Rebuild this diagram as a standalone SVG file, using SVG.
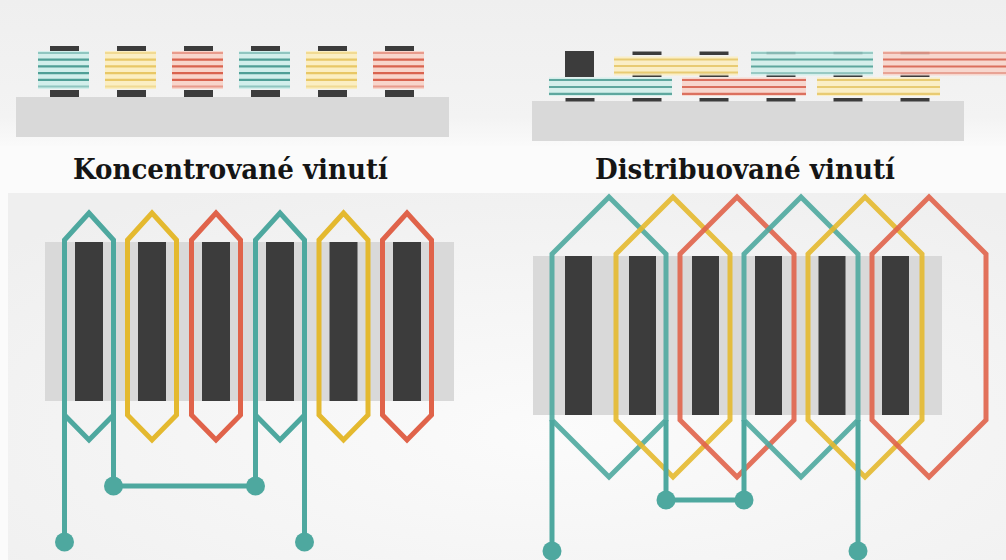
<svg xmlns="http://www.w3.org/2000/svg" width="1006" height="560" viewBox="0 0 1006 560">
  <defs>
    <linearGradient id="bgTop" x1="0" y1="0" x2="0" y2="1">
      <stop offset="0" stop-color="#efefef"/>
      <stop offset="0.8" stop-color="#f3f3f3"/>
      <stop offset="1" stop-color="#fafafa"/>
    </linearGradient>
    <radialGradient id="bgLow" cx="0.55" cy="0.65" r="0.75">
      <stop offset="0" stop-color="#fbfbfb"/>
      <stop offset="1" stop-color="#efefef"/>
    </radialGradient>
    <style>
      .title{font-family:"DejaVu Serif Condensed","DejaVu Serif",serif;font-stretch:condensed;font-weight:bold;font-size:27px;fill:#151515}
      .core{fill:#d9d9d9}
      .bar{fill:#3c3c3c}
      .coil{fill:none;stroke-width:5;stroke-linejoin:miter}
      .wire{fill:none;stroke:#4ea89f;stroke-width:5}
      .dot{fill:#4ea89f}
      .t{stroke:#4ea89f}
      .y{stroke:#e4b92f}
      .r{stroke:#e0634a}
      .dist{opacity:0.9}
      .pt{fill:#d2efeb}
      .py{fill:#fbeec2}
      .pr{fill:#f8d5cb}
      .s{stroke-width:2.2}
      .st{stroke:#4f9f96}
      .sy{stroke:#e8c766}
      .sr{stroke:#d9634f}
      .faint{opacity:0.5}
    </style>
  </defs>

  <!-- backdrop -->
  <rect x="0" y="0" width="1006" height="560" fill="#fbfbfb"/>
  <rect x="0" y="0" width="1006" height="146" fill="url(#bgTop)"/>
  <rect x="8" y="193" width="998" height="367" fill="url(#bgLow)"/>

  <!-- ===== concentrated winding, cross-section ===== -->
  <g id="concentrated-section">
    <rect class="core" x="16" y="97" width="433" height="40"/>
    <g id="cs-coil-1">
      <rect class="bar" x="50" y="46" width="29" height="7"/>
      <rect class="bar" x="50" y="90" width="29" height="7"/>
      <rect class="pt" x="38" y="51" width="51" height="38"/>
      <g class="s st"><line class="faint" x1="38" y1="53" x2="89" y2="53"/><line x1="38" y1="59.7" x2="89" y2="59.7"/><line x1="38" y1="66.4" x2="89" y2="66.4"/><line x1="38" y1="73.1" x2="89" y2="73.1"/><line x1="38" y1="79.8" x2="89" y2="79.8"/><line class="faint" x1="38" y1="86.5" x2="89" y2="86.5"/></g>
    </g>
    <g id="cs-coil-2">
      <rect class="bar" x="117" y="46" width="29" height="7"/>
      <rect class="bar" x="117" y="90" width="29" height="7"/>
      <rect class="py" x="105" y="51" width="51" height="38"/>
      <g class="s sy"><line class="faint" x1="105" y1="53" x2="156" y2="53"/><line x1="105" y1="59.7" x2="156" y2="59.7"/><line x1="105" y1="66.4" x2="156" y2="66.4"/><line x1="105" y1="73.1" x2="156" y2="73.1"/><line x1="105" y1="79.8" x2="156" y2="79.8"/><line class="faint" x1="105" y1="86.5" x2="156" y2="86.5"/></g>
    </g>
    <g id="cs-coil-3">
      <rect class="bar" x="184" y="46" width="29" height="7"/>
      <rect class="bar" x="184" y="90" width="29" height="7"/>
      <rect class="pr" x="172" y="51" width="51" height="38"/>
      <g class="s sr"><line class="faint" x1="172" y1="53" x2="223" y2="53"/><line x1="172" y1="59.7" x2="223" y2="59.7"/><line x1="172" y1="66.4" x2="223" y2="66.4"/><line x1="172" y1="73.1" x2="223" y2="73.1"/><line x1="172" y1="79.8" x2="223" y2="79.8"/><line class="faint" x1="172" y1="86.5" x2="223" y2="86.5"/></g>
    </g>
    <g id="cs-coil-4">
      <rect class="bar" x="251" y="46" width="29" height="7"/>
      <rect class="bar" x="251" y="90" width="29" height="7"/>
      <rect class="pt" x="239" y="51" width="51" height="38"/>
      <g class="s st"><line class="faint" x1="239" y1="53" x2="290" y2="53"/><line x1="239" y1="59.7" x2="290" y2="59.7"/><line x1="239" y1="66.4" x2="290" y2="66.4"/><line x1="239" y1="73.1" x2="290" y2="73.1"/><line x1="239" y1="79.8" x2="290" y2="79.8"/><line class="faint" x1="239" y1="86.5" x2="290" y2="86.5"/></g>
    </g>
    <g id="cs-coil-5">
      <rect class="bar" x="318" y="46" width="29" height="7"/>
      <rect class="bar" x="318" y="90" width="29" height="7"/>
      <rect class="py" x="306" y="51" width="51" height="38"/>
      <g class="s sy"><line class="faint" x1="306" y1="53" x2="357" y2="53"/><line x1="306" y1="59.7" x2="357" y2="59.7"/><line x1="306" y1="66.4" x2="357" y2="66.4"/><line x1="306" y1="73.1" x2="357" y2="73.1"/><line x1="306" y1="79.8" x2="357" y2="79.8"/><line class="faint" x1="306" y1="86.5" x2="357" y2="86.5"/></g>
    </g>
    <g id="cs-coil-6">
      <rect class="bar" x="385" y="46" width="29" height="7"/>
      <rect class="bar" x="385" y="90" width="29" height="7"/>
      <rect class="pr" x="373" y="51" width="51" height="38"/>
      <g class="s sr"><line class="faint" x1="373" y1="53" x2="424" y2="53"/><line x1="373" y1="59.7" x2="424" y2="59.7"/><line x1="373" y1="66.4" x2="424" y2="66.4"/><line x1="373" y1="73.1" x2="424" y2="73.1"/><line x1="373" y1="79.8" x2="424" y2="79.8"/><line class="faint" x1="373" y1="86.5" x2="424" y2="86.5"/></g>
    </g>
  </g>

  <!-- ===== distributed winding, cross-section ===== -->
  <g id="distributed-section">
    <rect class="core" x="532" y="101" width="432" height="40"/>
    <!-- slot teeth -->
    <rect class="bar" x="565" y="51" width="29" height="26"/>
    <g class="bar">
      <rect x="632.5" y="51.5" width="29" height="3.5"/>
      <rect x="699.5" y="51.5" width="29" height="3.5"/>
      <rect x="766.5" y="51.5" width="29" height="3.5"/>
      <rect x="833.5" y="51.5" width="29" height="3.5"/>
      <rect x="900.5" y="51.5" width="29" height="3.5"/>
      <rect x="632.5" y="73.5" width="29" height="3.5"/>
      <rect x="699.5" y="73.5" width="29" height="3.5"/>
      <rect x="766.5" y="73.5" width="29" height="3.5"/>
      <rect x="833.5" y="73.5" width="29" height="3.5"/>
      <rect x="900.5" y="73.5" width="29" height="3.5"/>
      <rect x="565.5" y="98" width="29" height="3.5"/>
      <rect x="632.5" y="98" width="29" height="3.5"/>
      <rect x="699.5" y="98" width="29" height="3.5"/>
      <rect x="766.5" y="98" width="29" height="3.5"/>
      <rect x="833.5" y="98" width="29" height="3.5"/>
      <rect x="900.5" y="98" width="29" height="3.5"/>
    </g>
    <g id="ds-coil-yellow-upper" opacity="0.9">
      <rect class="py" x="614" y="56.5" width="124" height="19"/>
      <g class="s sy"><line x1="614" y1="59.5" x2="738" y2="59.5"/><line x1="614" y1="66" x2="738" y2="66"/><line x1="614" y1="72.5" x2="738" y2="72.5"/></g>
    </g>
    <g id="ds-coil-teal-upper" opacity="0.9">
      <rect class="pt" x="751" y="51" width="122" height="24.5"/>
      <g class="s st"><line class="faint" x1="751" y1="53" x2="873" y2="53"/><line x1="751" y1="59.5" x2="873" y2="59.5"/><line x1="751" y1="66.5" x2="873" y2="66.5"/><line class="faint" x1="751" y1="73" x2="873" y2="73"/></g>
    </g>
    <g id="ds-coil-red-upper" opacity="0.9">
      <rect class="pr" x="883" y="51" width="123" height="24.5"/>
      <g class="s sr"><line class="faint" x1="883" y1="53" x2="1006" y2="53"/><line x1="883" y1="59.5" x2="1006" y2="59.5"/><line x1="883" y1="66.5" x2="1006" y2="66.5"/><line class="faint" x1="883" y1="73" x2="1006" y2="73"/></g>
    </g>
    <g id="ds-coil-teal-lower" opacity="0.9">
      <rect class="pt" x="549" y="77.5" width="123" height="18.5"/>
      <g class="s st"><line x1="549" y1="80" x2="672" y2="80"/><line x1="549" y1="87" x2="672" y2="87"/><line x1="549" y1="93.8" x2="672" y2="93.8"/></g>
    </g>
    <g id="ds-coil-red-lower" opacity="0.9">
      <rect class="pr" x="682" y="77.5" width="124" height="18.5"/>
      <g class="s sr"><line x1="682" y1="80" x2="806" y2="80"/><line x1="682" y1="87" x2="806" y2="87"/><line x1="682" y1="93.8" x2="806" y2="93.8"/></g>
    </g>
    <g id="ds-coil-yellow-lower" opacity="0.9">
      <rect class="py" x="817" y="77.5" width="123" height="18.5"/>
      <g class="s sy"><line x1="817" y1="80" x2="940" y2="80"/><line x1="817" y1="87" x2="940" y2="87"/><line x1="817" y1="93.8" x2="940" y2="93.8"/></g>
    </g>
  </g>

  <!-- captions -->
  <text id="label-concentrated" class="title" x="73" y="179" textLength="315" lengthAdjust="spacingAndGlyphs">Koncentrované vinutí</text>
  <text id="label-distributed" class="title" x="595" y="179" textLength="300" lengthAdjust="spacingAndGlyphs">Distribuované vinutí</text>

  <!-- ===== concentrated winding, developed view ===== -->
  <g id="concentrated-stator">
    <rect class="core" x="45" y="242" width="409" height="159"/>
    <rect class="bar" x="75" y="242" width="28" height="159"/>
    <rect class="bar" x="138" y="242" width="28" height="159"/>
    <rect class="bar" x="202" y="242" width="28" height="159"/>
    <rect class="bar" x="266" y="242" width="28" height="159"/>
    <rect class="bar" x="329.5" y="242" width="28" height="159"/>
    <rect class="bar" x="393" y="242" width="28" height="159"/>
  </g>
  <g id="cc-1"><path class="coil t" d="M89 213 L113.5 240 V415 L89 440 L64.5 415 V240 Z"/></g>
  <g id="cc-2"><path class="coil y" d="M152 213 L176.5 240 V415 L152 440 L127.5 415 V240 Z"/></g>
  <g id="cc-3"><path class="coil r" d="M216 213 L240.5 240 V415 L216 440 L191.5 415 V240 Z"/></g>
  <g id="cc-4"><path class="coil t" d="M280 213 L304.5 240 V415 L280 440 L255.5 415 V240 Z"/></g>
  <g id="cc-5"><path class="coil y" d="M343.5 213 L368 240 V415 L343.5 440 L319 415 V240 Z"/></g>
  <g id="cc-6"><path class="coil r" d="M407 213 L431.5 240 V415 L407 440 L382.5 415 V240 Z"/></g>

  <!-- ===== distributed winding, developed view ===== -->
  <g id="distributed-stator">
    <rect class="core" x="533" y="256" width="409" height="159"/>
    <rect class="bar" x="565" y="256" width="27" height="159"/>
    <rect class="bar" x="629" y="256" width="27" height="159"/>
    <rect class="bar" x="692" y="256" width="27" height="159"/>
    <rect class="bar" x="755" y="256" width="27" height="159"/>
    <rect class="bar" x="818.5" y="256" width="27" height="159"/>
    <rect class="bar" x="882" y="256" width="27" height="159"/>
  </g>
  <g id="dc-1" class="dist"><path class="coil t" d="M609 197 L666 254 V420 L609 477 L552 420 V254 Z"/></g>
  <g id="dc-2" class="dist"><path class="coil y" d="M673 197 L730 254 V420 L673 477 L616 420 V254 Z"/></g>
  <g id="dc-3" class="dist"><path class="coil r" d="M737 197 L794 254 V420 L737 477 L680 420 V254 Z"/></g>
  <g id="dc-4" class="dist"><path class="coil t" d="M801 197 L858 254 V420 L801 477 L744 420 V254 Z"/></g>
  <g id="dc-5" class="dist"><path class="coil y" d="M865 197 L922 254 V420 L865 477 L808 420 V254 Z"/></g>
  <g id="dc-6" class="dist"><path class="coil r" d="M929 197 L986 254 V420 L929 477 L872 420 V254 Z"/></g>

  <!-- phase leads and coil-to-coil links -->
  <g id="connectors">
    <path class="wire" d="M64.5 415 V542"/>
    <path class="wire" d="M113.5 415 V486 H255.5 V415"/>
    <path class="wire" d="M304.5 415 V542"/>
    <path class="wire" d="M552 420 V551"/>
    <path class="wire" d="M666 420 V500 H744 V420"/>
    <path class="wire" d="M858 420 V551"/>
  </g>

  <g id="terminals">
    <circle id="cc-link-a" class="dot" cx="113.5" cy="486" r="9.5"/>
    <circle id="cc-link-b" class="dot" cx="255.5" cy="486" r="9.5"/>
    <circle id="cc-in" class="dot" cx="64.5" cy="542" r="9.5"/>
    <circle id="cc-out" class="dot" cx="304.5" cy="542" r="9.5"/>
    <circle id="dc-link-a" class="dot" cx="666" cy="500" r="9.5"/>
    <circle id="dc-link-b" class="dot" cx="744" cy="500" r="9.5"/>
    <circle id="dc-in" class="dot" cx="552" cy="551" r="9.5"/>
    <circle id="dc-out" class="dot" cx="858" cy="551" r="9.5"/>
  </g>
</svg>
